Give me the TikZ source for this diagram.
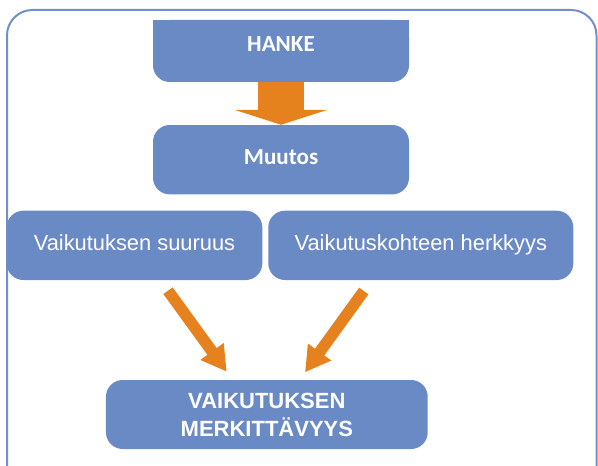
\documentclass[tikz,border=0pt]{standalone}
\usepackage{fontspec}
\setmainfont{Liberation Sans}
\newfontfamily\calfont{Carlito}
\usetikzlibrary{arrows.meta}
\definecolor{boxblue}{HTML}{6A8AC6}
\definecolor{frameblue}{HTML}{7090CB}
\definecolor{arroworange}{HTML}{E6821E}
\begin{document}
\begin{tikzpicture}[x=0.75pt,y=-0.75pt,
  box/.style={fill=boxblue, rounded corners=12.5pt, text=white, inner sep=0pt, align=center},
  calbold/.style={font=\calfont\bfseries\fontsize{17.3}{20}\selectfont},
  arialreg/.style={font=\fontsize{16.4}{20}\selectfont},
  arialbold/.style={font=\bfseries\fontsize{16.5}{21}\selectfont},
  blockarrow/.style={draw=arroworange, line width=#1},
  thinarrow/.style={blockarrow=8.6pt, -{Triangle[length=18.75pt,width=20.25pt]}},
  bigarrow/.style={blockarrow=34.5pt, -{Triangle[length=11.25pt,width=69.75pt]}}
]
\useasboundingbox (0,0) rectangle (598,466);
\clip (0,0) rectangle (598,466);
% outer frame
\draw[frameblue, line width=1.5pt, rounded corners=19pt] (7,10) rectangle (596.5,540);
% square top of HANKE box
\fill[boxblue] (153,20) rectangle (409,50);
\node[box, calbold, minimum width=192pt, minimum height=46.5pt, text height=11.1pt, text depth=9.8pt] (hanke) at (281,51) {HANKE};
\node[box, calbold, minimum width=192pt, minimum height=52pt, text height=11.1pt, text depth=4.5pt] (muutos) at (281,159.7) {Muutos};
\node[box, arialreg, minimum width=191.7pt, minimum height=52pt, text height=11.75pt, text depth=3.8pt] (suuruus) at (134.5,245.35) {Vaikutuksen suuruus};
\node[box, arialreg, minimum width=228.75pt, minimum height=52pt, text height=11.75pt, text depth=3.8pt] (herkkyys) at (420.8,245.35) {Vaikutuskohteen herkkyys};
\node[box, arialbold, minimum width=241.3pt, minimum height=51.75pt] (merkitys) at (266.85,414.5) {VAIKUTUKSEN\\MERKITTÄVYYS};
% arrows
\draw[bigarrow] (hanke.south) -- (muutos.north);
\coordinate (s1) at (168,290.7);
\coordinate (e1) at (226.7,371.7);
\coordinate (s2) at (363.8,291);
\coordinate (e2) at (305,372.3);
\draw[thinarrow] (s1) -- (e1);
\draw[thinarrow] (s2) -- (e2);
\end{tikzpicture}
\end{document}
